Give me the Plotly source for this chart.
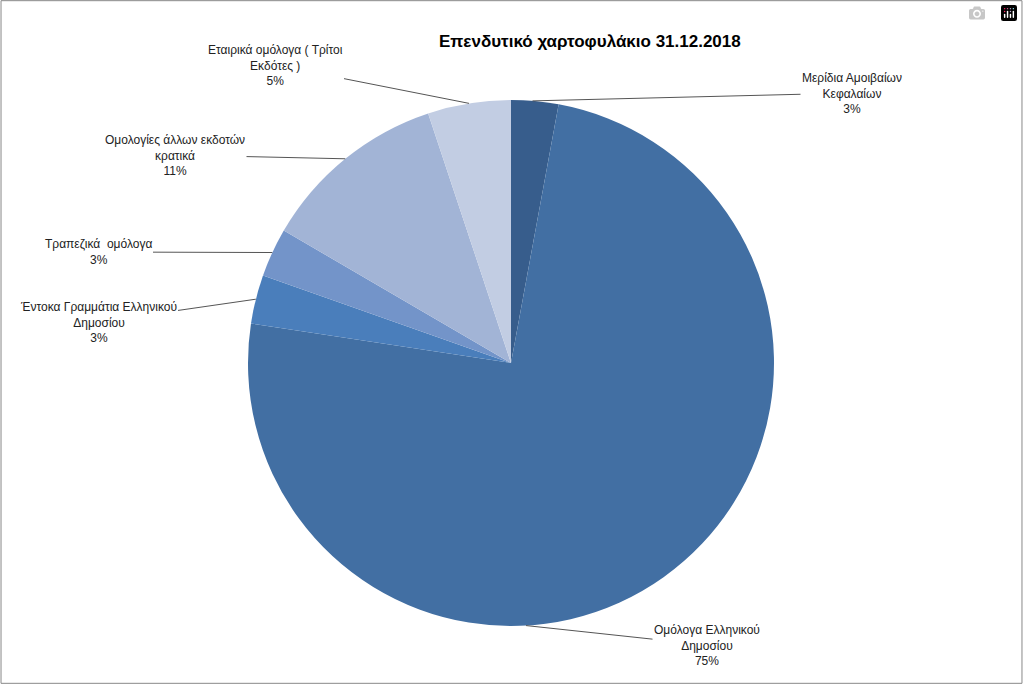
import numpy as np
import plotly.graph_objects as go

labels = ["Μερίδια Αμοιβαίων<br>Κεφαλαίων<br>3%", "Ομόλογα Ελληνικού<br>Δημοσίου<br>75%",
          "Έντοκα Γραμμάτια Ελληνικού<br>Δημοσίου<br>3%", "Τραπεζικά  ομόλογα<br>3%",
          "Ομολογίες άλλων εκδοτών<br>κρατικά<br>11%", "Εταιρικά ομόλογα ( Τρίτοι<br>Εκδότες )<br>5%"]
names = ["Μερίδια Αμοιβαίων Κεφαλαίων", "Ομόλογα Ελληνικού Δημοσίου", "Έντοκα Γραμμάτια Ελληνικού Δημοσίου",
         "Τραπεζικά ομόλογα", "Ομολογίες άλλων εκδοτών κρατικά", "Εταιρικά ομόλογα (Τρίτοι Εκδότες)"]
values = [2.9, 74.5, 3.0, 3.0, 11.5, 5.1]
colors = ["#375d8c", "#426fa3", "#4a7ebb", "#7394c9", "#a2b4d6", "#c2cde3"]
label_px = [(852, 93), (707, 645), (98, 322), (98, 252), (175, 155), (275, 65)]
edge_frac = [0.45, 0.62, 0.5, 0.5, 0.5, 0.5]

W, H = 1023, 684
cx, cy, R = 511, 363, 263
fig = go.Figure(go.Pie(labels=names, values=values, marker=dict(colors=colors, line=dict(width=0)),
                       sort=False, direction="clockwise", rotation=0, textinfo="none",
                       domain=dict(x=[(cx-R)/W, (cx+R)/W], y=[1-(cy+R)/H, 1-(cy-R)/H]),
                       showlegend=False, hoverinfo="label+percent"))
tot = sum(values)
cum = np.cumsum([0] + values)
anns = []
for i, (lab, (tx, ty)) in enumerate(zip(labels, label_px)):
    a0, a1 = cum[i]/tot*2*np.pi, cum[i+1]/tot*2*np.pi
    a = a0 + (a1-a0)*edge_frac[i]
    ex, ey = cx + R*np.sin(a), cy - R*np.cos(a)
    anns.append(dict(x=ex/W, y=1-ey/H, xref="paper", yref="paper", text=lab, showarrow=True,
                     arrowhead=0, arrowwidth=1, arrowcolor="#555555", ax=tx-ex, ay=ty-ey,
                     font=dict(size=12, color="#222222", family="Liberation Sans")))
anns.append(dict(x=590/W, y=1-42/H, xref="paper", yref="paper", showarrow=False,
                 xanchor="center", yanchor="middle",
                 text="<b>Επενδυτικό χαρτοφυλάκιο 31.12.2018</b>",
                 font=dict(size=17, color="black", family="Liberation Sans")))
fig.update_layout(width=W, height=H, margin=dict(l=0, r=0, t=0, b=0), paper_bgcolor="white",
                  annotations=anns,
                  shapes=[dict(type="rect", xref="paper", yref="paper", x0=0.001, y0=0.001, x1=0.999, y1=0.999,
                               line=dict(color="#888888", width=1))])
fig.write_html("out.html")
with open("out.html", encoding="utf-8") as f:
    html = f.read()
html = html.replace("<head>", "<head><style>html,body{margin:0;padding:0;overflow:hidden}</style>", 1)
with open("out.html", "w", encoding="utf-8") as f:
    f.write(html)
